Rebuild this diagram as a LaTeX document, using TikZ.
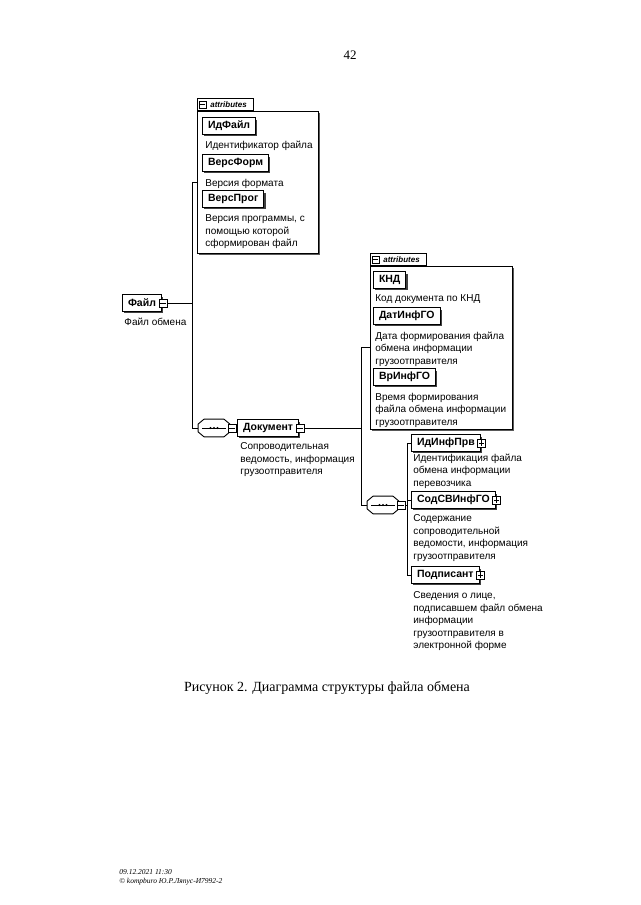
\documentclass[tikz,border=0pt]{standalone}
\usepackage{fontspec}
\setmainfont{Liberation Serif}
\newfontfamily\dsans{Liberation Sans}
\usetikzlibrary{shadows}
\begin{document}
\begin{tikzpicture}[x=1pt,y=-1pt,line width=0.8pt,
 shad/.style={drop shadow={shadow xshift=1.8pt,shadow yshift=-1.8pt,fill=black!75,opacity=1}},
 elem/.style={draw,fill=white,line width=1pt,shad,anchor=west,minimum height=16.5pt,inner xsep=5.5pt,inner ysep=0pt,font=\dsans\bfseries\fontsize{10.5}{12}\selectfont},
 desc/.style={anchor=north west,align=left,inner sep=0pt,font=\dsans\fontsize{10}{12.5}\selectfont},
 abox/.style={draw,fill=white,line width=0.7pt,anchor=north west,drop shadow={shadow xshift=1.3pt,shadow yshift=-1.3pt,fill=black!65,opacity=1}},
 atab/.style={draw,fill=white,line width=0.7pt,anchor=south west,minimum height=12pt,inner ysep=0pt,inner xsep=5pt,text width=46pt,align=left,font=\dsans\bfseries\itshape\fontsize{8}{9}\selectfont},
 msq/.style={draw,fill=white,minimum size=8pt,inner sep=0pt,line width=0.7pt,path picture={\draw[line width=0.7pt] ([xshift=1.4pt]path picture bounding box.west)--([xshift=-1.4pt]path picture bounding box.east);}},
 psq/.style={draw,fill=white,minimum size=8pt,inner sep=0pt,line width=0.7pt,path picture={\draw[line width=0.7pt] ([xshift=1.4pt]path picture bounding box.west)--([xshift=-1.4pt]path picture bounding box.east) ([yshift=1.4pt]path picture bounding box.south)--([yshift=-1.4pt]path picture bounding box.north);}},
 seqbox/.style={minimum width=31pt,minimum height=17pt,inner sep=0pt}
]
\useasboundingbox (0,0) rectangle (640,905);
\fill[white] (0,0) rectangle (640,905);

\node[font=\fontsize{13}{15}\selectfont] (pg) at (350,55) {42};

% attributes of Файл
\node[abox,minimum width=121pt,minimum height=142pt] (a1) at (197,111) {};
\node[atab] (t1) at (a1.north west) {\hspace*{8pt}attributes};
\node[msq,minimum size=7pt,xshift=5.5pt] (t1s) at (t1.west) {};
\node[elem] (idf) at (202,126) {ИдФайл};
\node[desc] (didf) at (205,140.5) {Идентификатор файла};
\node[elem] (vf) at (202,163) {ВерсФорм};
\node[desc] (dvf) at (205,178.5) {Версия формата};
\node[elem] (vp) at (202,199) {ВерсПрог};
\node[desc] (dvp) at (205,214.5) {Версия программы, с\\помощью которой\\сформирован файл};

% Файл
\node[elem] (f) at (122,303) {Файл};
\node[msq,xshift=1pt] (fs) at (f.east) {};
\node[desc] (df) at (124,317.5) {Файл обмена};
\coordinate (j1) at (192,303);

% sequence nodes (drawn as octagons)
\node[seqbox] (o1) at (214,428) {};
\node[seqbox] (o2) at (383,505) {};
\foreach \o in {o1,o2} {
  \fill[black!75,xshift=1.8pt,yshift=-1.8pt] ([xshift=6pt]\o.north west) -- ([xshift=-6pt]\o.north east) -- ([yshift=-5pt]\o.north east) -- ([yshift=5pt]\o.south east) -- ([xshift=-6pt]\o.south east) -- ([xshift=6pt]\o.south west) -- ([yshift=5pt]\o.south west) -- ([yshift=-5pt]\o.north west) -- cycle;
  \draw[fill=white,line width=0.9pt] ([xshift=6pt]\o.north west) -- ([xshift=-6pt]\o.north east) -- ([yshift=-5pt]\o.north east) -- ([yshift=5pt]\o.south east) -- ([xshift=-6pt]\o.south east) -- ([xshift=6pt]\o.south west) -- ([yshift=5pt]\o.south west) -- ([yshift=-5pt]\o.north west) -- cycle;
  \draw[line width=0.8pt] ([xshift=4pt]\o.west) -- ([xshift=-4pt]\o.east);
  \foreach \d in {-3.5,0,3.5} \fill ([xshift=\d pt]\o.center) circle (1.2pt);
}

% Документ
\node[msq,xshift=2pt] (o1s) at (o1.east) {};
\node[elem] (doc) at (237,428) {Документ};
\node[msq,xshift=1pt] (docs) at (doc.east) {};
\node[desc] (ddoc) at (240,442.5) {Сопроводительная\\ведомость, информация\\грузоотправителя};
\coordinate (j2) at (361,428);

% attributes of Документ
\node[abox,minimum width=142pt,minimum height=163pt] (a2) at (370,266) {};
\node[atab] (t2) at (a2.north west) {\hspace*{8pt}attributes};
\node[msq,minimum size=7pt,xshift=5.5pt] (t2s) at (t2.west) {};
\node[elem] (knd) at (373,280) {КНД};
\node[desc] (dknd) at (375,294.5) {Код документа по КНД};
\node[elem] (dat) at (373,316) {ДатИнфГО};
\node[desc] (ddat) at (375,331.5) {Дата формирования файла\\обмена информации\\грузоотправителя};
\node[elem] (vr) at (373,377) {ВрИнфГО};
\node[desc] (dvr) at (375,392.5) {Время формирования\\файла обмена информации\\грузоотправителя};

% children of the sequence
\node[msq,xshift=2pt] (o2s) at (o2.east) {};
\coordinate (j3) at (407,505);
\node[elem] (c1) at (411,443) {ИдИнфПрв};
\node[psq,xshift=1pt] (c1s) at (c1.east) {};
\node[desc] (dc1) at (413,453.5) {Идентификация файла\\обмена информации\\перевозчика};
\node[elem] (c2) at (411,500) {СодСВИнфГО};
\node[psq,xshift=1pt] (c2s) at (c2.east) {};
\node[desc] (dc2) at (413,514.5) {Содержание\\сопроводительной\\ведомости, информация\\грузоотправителя};
\node[elem] (c3) at (411,575) {Подписант};
\node[psq,xshift=1pt] (c3s) at (c3.east) {};
\node[desc] (dc3) at (413,591.5) {Сведения о лице,\\подписавшем файл обмена\\информации\\грузоотправителя в\\электронной форме};

% connectors
\draw (fs.east) -- (j1) |- (a1.west);
\draw (j1) |- (o1.west);
\draw (o1s.east) -- (doc.west);
\draw (docs.east) -- (j2) |- (a2.west);
\draw (j2) |- (o2.west);
\draw (o2s.east) -- (j3);
\draw (j3) |- (c1.west);
\draw (j3) |- (c2.west);
\draw (j3) |- (c3.west);

% caption and footer
\node[font=\fontsize{14}{16}\selectfont] (cap) at (327,688) {Рисунок 2. Диаграмма структуры файла обмена};
\node[anchor=west,inner sep=0pt,font=\itshape\fontsize{7.5}{9}\selectfont] (ft1) at (119,872) {09.12.2021 11:30};
\node[anchor=west,inner sep=0pt,font=\itshape\fontsize{7.5}{9}\selectfont] (ft2) at (119,882) {© kompburo Ю.Р.Ляпус-И7992-2};
\end{tikzpicture}
\end{document}
